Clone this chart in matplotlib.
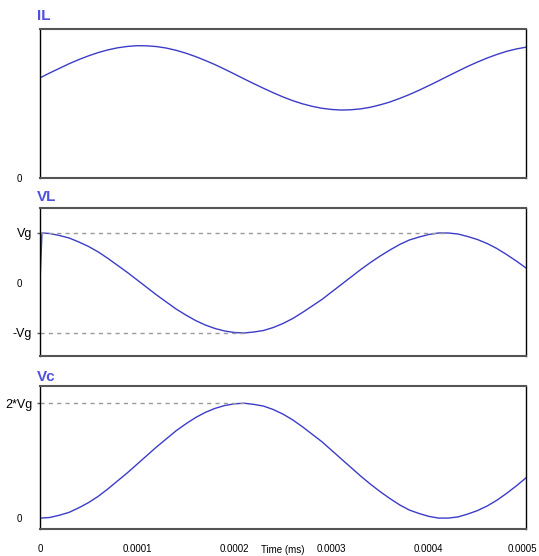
import numpy as np
import matplotlib
matplotlib.use("Agg")
import matplotlib.pyplot as plt
import matplotlib.transforms as mtransforms

plt.rcParams['font.family'] = ['Liberation Sans', 'DejaVu Sans']

# time axis (ms), sampled every 0.00001
t = [k * 0.00001 for k in range(51)]

# IL (relative to panel, 0..1)
il = [0.672, 0.705, 0.736, 0.767, 0.795, 0.820, 0.842, 0.860, 0.874, 0.883,
      0.888, 0.887, 0.882, 0.872, 0.857, 0.838, 0.815, 0.789, 0.761, 0.730,
      0.698, 0.665, 0.633, 0.602, 0.572, 0.544, 0.519, 0.498, 0.481, 0.468,
      0.460, 0.456, 0.458, 0.464, 0.475, 0.491, 0.510, 0.534, 0.560, 0.589,
      0.620, 0.652, 0.685, 0.717, 0.749, 0.778, 0.805, 0.829, 0.850, 0.866,
      0.878]

# VL in units of Vg (starts at 0 and jumps to Vg)
vl_t = [0.0, 0.000001, 0.000002] + t[1:]
vl = [0.0, 0.5, 1.0,
      0.99, 0.95, 0.90, 0.82, 0.73, 0.62, 0.49, 0.35, 0.21, 0.06,
      -0.09, -0.24, -0.38, -0.52, -0.64, -0.75, -0.84, -0.91, -0.96, -0.99,
      -1.00, -0.98, -0.95, -0.89, -0.81, -0.71, -0.59, -0.46, -0.33, -0.18,
      -0.03, 0.12, 0.27, 0.41, 0.54, 0.66, 0.77, 0.86, 0.92, 0.97,
      1.00, 1.00, 0.98, 0.93, 0.87, 0.79, 0.69, 0.57, 0.44, 0.30]

# Vc in units of Vg
vc = [0.00, 0.01, 0.05, 0.10, 0.18, 0.27, 0.38, 0.51, 0.65, 0.79,
      0.94, 1.09, 1.24, 1.38, 1.52, 1.64, 1.75, 1.84, 1.91, 1.96,
      1.99, 2.00, 1.98, 1.95, 1.89, 1.81, 1.71, 1.59, 1.46, 1.33,
      1.18, 1.03, 0.88, 0.73, 0.59, 0.46, 0.34, 0.23, 0.14, 0.08,
      0.03, 0.00, 0.00, 0.02, 0.07, 0.13, 0.21, 0.31, 0.43, 0.56,
      0.70]

xticks = [0, 0.0001, 0.0002, 0.0003, 0.0004, 0.0005]
xlabels = ['0', '0.0001', '0.0002', '0.0003', '0.0004', '0.0005']

line_col = '#3c3cc8'
title_col = '#5050e0'
dash_col = '#9a9a9a'

W, H = 539, 556
fig = plt.figure(figsize=(W / 100, H / 100), dpi=100)


def make_axes(top, bottom):
    ax = fig.add_axes([40 / W, 1 - bottom / H, 486 / W, (bottom - top) / H])
    ax.set_xlim(0, 0.0005)
    for s in ['top', 'bottom']:
        ax.spines[s].set_color('#555555')
        ax.spines[s].set_linewidth(1.5)
    for s in ['left', 'right']:
        ax.spines[s].set_color('black')
        ax.spines[s].set_linewidth(1.0)
    ax.tick_params(axis='y', length=2, width=1, color='#555555', labelsize=9)
    ax.tick_params(axis='x', length=0)
    return ax


def small_zero(ax, idx):
    tk = ax.yaxis.get_major_ticks()[idx]
    tk.label1.set_fontsize(7)
    tk.tick1line.set_visible(False)
    tk.set_pad(11)


# IL
ax1 = make_axes(29, 178)
ax1.plot(t, il, color=line_col, lw=1)
ax1.set_ylim(0, 1)
ax1.set_yticks([0])
ax1.set_yticklabels(['0'])
small_zero(ax1, 0)
ax1.set_xticks(xticks)
ax1.set_xticklabels([])

# VL
ax2 = make_axes(208, 356)
ax2.plot(vl_t, vl, color=line_col, lw=1)
i_min = int(np.argmin(vl))
i_max = len(vl) - 1 - int(np.argmax(vl[::-1][:20]))
ax2.hlines(max(vl), 0, vl_t[i_max], colors=dash_col, linestyles=(0, (3, 3)), lw=1)
ax2.hlines(min(vl), 0, vl_t[i_min], colors=dash_col, linestyles=(0, (3, 3)), lw=1)
ax2.set_ylim(-1.46, 1.5)
ax2.set_yticks([-1, 0, 1])
ax2.set_yticklabels(['-Vg', '0', 'Vg'])
small_zero(ax2, 1)
ax2.set_xticks(xticks)
ax2.set_xticklabels([])

# Vc
ax3 = make_axes(386, 529)
ax3.plot(t, vc, color=line_col, lw=1)
i_pk = int(np.argmax(vc))
ax3.hlines(vc[i_pk], 0, t[i_pk], colors=dash_col, linestyles=(0, (3, 3)), lw=1)
ax3.set_ylim(-0.19, 2.30)
ax3.set_yticks([0, 2])
ax3.set_yticklabels(['0', '2*Vg'])
small_zero(ax3, 0)
ax3.set_xticks(xticks)
ax3.set_xticklabels(xlabels, fontsize=7)
ax3.tick_params(axis='x', pad=11)

# nudge the last tick label left so it stays inside the image
last = ax3.get_xticklabels()[-1]
last.set_transform(last.get_transform() +
                   mtransforms.ScaledTranslation(-4 / 100, 0, fig.dpi_scale_trans))

for name, y in [('IL', 16), ('VL', 197), ('Vc', 377)]:
    fig.text(37 / W, 1 - y / H, name, color=title_col, fontsize=11,
             fontweight='bold', va='center', ha='left')

fig.text(283 / W, 1 / H, 'Time (ms)', fontsize=7, ha='center', va='bottom')

fig.savefig('out.png', dpi=100)
